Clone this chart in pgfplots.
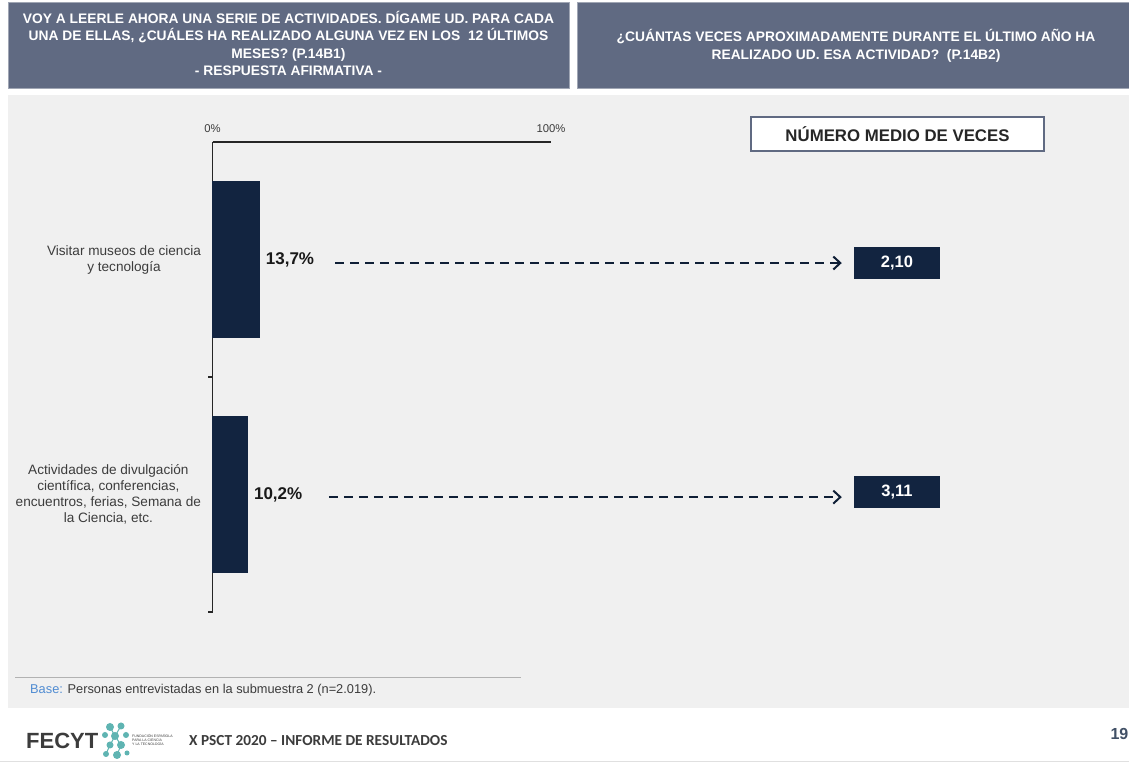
\documentclass[border=0pt]{standalone}
\usepackage{fontspec}
\setmainfont{Liberation Sans}
\newfontfamily\carlito{Carlito}
\usepackage{pgfplots}
\pgfplotsset{compat=1.18}
\usetikzlibrary{arrows.meta}
\definecolor{navy}{RGB}{18,36,64}
\definecolor{slate}{RGB}{96,106,130}
\definecolor{bggray}{RGB}{240,240,240}
\definecolor{txtgray}{RGB}{60,60,60}
\definecolor{logoteal}{RGB}{95,180,178}
\definecolor{baseblue}{RGB}{80,140,210}
\begin{document}
\begin{tikzpicture}
\begin{scope}[x=1pt,y=1pt]
\path[use as bounding box] (0,0) rectangle (1129,765);
\fill[white] (0,0) rectangle (1129,765);
\fill[bggray] (8,57) rectangle (1129,670);
\filldraw[fill=slate, draw=slate!60!white, line width=0.8pt] (8.5,677) rectangle (569,763);
\filldraw[fill=slate, draw=slate!60!white, line width=0.8pt] (577,677) rectangle (1129.5,763);
\node[text=white, font=\bfseries\fontsize{13.8}{17.5}\selectfont, align=center] at (288.5,721.5)
 {VOY A LEERLE AHORA UNA SERIE DE ACTIVIDADES. DÍGAME UD. PARA CADA\\UNA DE ELLAS, ¿CUÁLES HA REALIZADO ALGUNA VEZ EN LOS\ \ 12 ÚLTIMOS\\MESES? (P.14B1)\\- RESPUESTA AFIRMATIVA -};
\node[text=white, font=\bfseries\fontsize{13.8}{17.5}\selectfont, align=center] at (856,719)
 {¿CUÁNTAS VECES APROXIMADAMENTE DURANTE EL ÚLTIMO AÑO HA\\REALIZADO UD. ESA ACTIVIDAD?\ \ (P.14B2)};
\node[draw=slate, line width=1.5pt, fill=white, minimum width=293pt, minimum height=34pt,
 font=\bfseries\fontsize{16.8}{20}\selectfont, text=black!85] at (897.5,631) {NÚMERO MEDIO DE VECES};
\draw[black!30, line width=1pt] (15,87) -- (521,87);
\node[anchor=west, font=\fontsize{12.8}{14}\selectfont, inner sep=0pt] at (30,75)
 {\textcolor{baseblue}{Base:} \textcolor{txtgray}{Personas entrevistadas en la submuestra 2 (n=2.019).}};
% footer
\node[anchor=west, font=\bfseries\fontsize{22}{24}\selectfont, text=txtgray, inner sep=0pt] at (26,24) {FECYT};
\foreach \cx/\cy/\r in {110/38/4, 121/39/3.5, 105/30/3, 115/29/4, 126/30/3, 110/20/3.5, 121/20/4, 106/11/3, 117/10/4, 127/12/2.5}
  \fill[logoteal] (\cx,\cy) circle (\r);
\draw[logoteal, line width=1pt] (110,38)--(115,29)--(121,20)--(117,10) (121,39)--(115,29)--(110,20)--(106,11);
\node[anchor=west, font=\fontsize{3.5}{4.2}\selectfont, text=txtgray, align=left, inner sep=0pt] at (132,25)
 {FUNDACIÓN ESPAÑOLA\\PARA LA CIENCIA\\Y LA TECNOLOGÍA};
\node[anchor=west, font=\carlito\bfseries\fontsize{15.3}{18}\selectfont, text=txtgray, inner sep=0pt] at (189,24)
 {X PSCT 2020 – INFORME DE RESULTADOS};
\node[anchor=east, font=\bfseries\fontsize{16}{18}\selectfont, text=navy!80, inner sep=0pt] at (1128.5,31) {19};
\draw[black!12, line width=1pt] (0,3) -- (1129,3);
\end{scope}

\begin{axis}[
 at={(212.5pt,623pt)}, anchor=north west,
 scale only axis, width=338.5pt, height=470pt,
 xmin=0, xmax=100, ymin=0.5, ymax=2.5, y dir=reverse,
 axis x line*=top, axis y line*=left,
 axis line style={black!85, line width=1.3pt, -},
 xtick={0,100}, xticklabels={0\%,100\%},
 xticklabel style={font=\fontsize{11.3}{13}\selectfont, text=txtgray, yshift=6pt},
 ytick={1,2},
 yticklabels={{Visitar museos de ciencia\\y tecnología},{Actividades de divulgación\\científica, conferencias,\\encuentros, ferias, Semana de\\la Ciencia, etc.}},
 yticklabel style={align=center, font=\fontsize{13.6}{16}\selectfont, text=txtgray, xshift=-8pt},
 major tick length=0pt,
 extra y ticks={1.5,2.5}, extra y tick labels={},
 extra y tick style={major tick length=4pt, tick align=outside, tick style={black!85, line width=1.3pt}},
 clip=false,
]
\addplot[xbar, bar width=156pt, fill=navy, draw=navy, point meta=x,
 nodes near coords={\pgfmathprintnumber[fixed, precision=1, use comma, assume math mode=true]{\pgfplotspointmeta}\%},
 every node near coord/.append style={anchor=west, font=\bfseries\fontsize{17}{18}\selectfont, text=black!90, xshift=3.5pt}]
 coordinates {(13.7,1) (10.2,2)};
\addplot[navy!85!black, line width=1.8pt, dash pattern=on 9pt off 6pt,
 -{Straight Barb[length=7pt, width=13pt, line width=2pt]}]
 coordinates {(36.2,1.015) (185.9,1.015)};
\addplot[navy!85!black, line width=1.8pt, dash pattern=on 9pt off 6pt,
 -{Straight Barb[length=7pt, width=13pt, line width=2pt]}]
 coordinates {(34.4,2.011) (185.9,2.011)};
\addplot[only marks, mark=none, point meta=explicit,
 nodes near coords={\pgfmathprintnumber[fixed, fixed zerofill, precision=2, use comma, assume math mode=true]{\pgfplotspointmeta}},
 every node near coord/.append style={anchor=center, fill=navy, text=white, font=\bfseries\fontsize{16.5}{18}\selectfont, minimum width=86pt, minimum height=32pt, inner sep=0pt}]
 coordinates {(202.2,1.013) [2.10] (202.2,1.989) [3.11]};
\end{axis}
\end{tikzpicture}
\end{document}
